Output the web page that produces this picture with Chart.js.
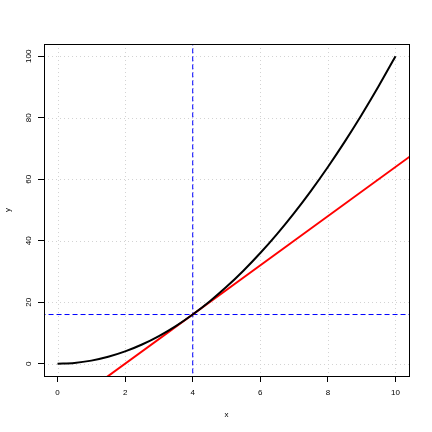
<!DOCTYPE html>
<html><head><meta charset="utf-8">
<script src="https://cdn.jsdelivr.net/npm/chart.js@4"></script>
<style>html,body{margin:0;padding:0;background:#fff}</style>
</head><body>
<canvas id="c" width="432" height="432"></canvas>
<script>
// curve y = x^2 read at each half unit
const curveX = [0,0.5,1,1.5,2,2.5,3,3.5,4,4.5,5,5.5,6,6.5,7,7.5,8,8.5,9,9.5,10];
const curveY = [0,0.25,1,2.25,4,6.25,9,12.25,16,20.25,25,30.25,36,42.25,49,56.25,64,72.25,81,90.25,100];
// tangent line (extends past the plot, clipped)
const tangentX = [-1, 11];
const tangentY = [-24, 72];
const vlineX = 4;
const hlineY = 16;
const xTicks = [0,2,4,6,8,10];
const yTicks = [0,20,40,60,80,100];
const xLabel = 'x';
const yLabel = 'y';

const FONT = 'Liberation Sans, Arial, Helvetica, sans-serif';

const rPlugin = {
  id: 'rPlugin',
  beforeDatasetsDraw(chart) {
    const {ctx, chartArea: a, scales: {x, y}} = chart;
    ctx.save();
    ctx.strokeStyle = '#d3d3d3';
    ctx.lineWidth = 1;
    ctx.setLineDash([1, 3]);
    xTicks.forEach(v => {
      const p = Math.round(x.getPixelForValue(v)) + 0.5;
      ctx.beginPath(); ctx.moveTo(p, a.top); ctx.lineTo(p, a.bottom); ctx.stroke();
    });
    yTicks.forEach(v => {
      const p = Math.round(y.getPixelForValue(v)) + 0.5;
      ctx.beginPath(); ctx.moveTo(a.left, p); ctx.lineTo(a.right, p); ctx.stroke();
    });
    ctx.restore();
  },
  afterDraw(chart) {
    const {ctx, chartArea: a, scales: {y}} = chart;
    ctx.save();
    ctx.strokeStyle = '#000';
    ctx.lineWidth = 1;
    ctx.strokeRect(Math.round(a.left) + 0.5, Math.round(a.top) + 0.5,
                   Math.round(a.right - a.left), Math.round(a.bottom - a.top));
    ctx.fillStyle = '#000';
    ctx.font = '8px ' + FONT;
    ctx.textAlign = 'center';
    ctx.textBaseline = 'middle';
    y.ticks.forEach(t => {
      const p = y.getPixelForValue(t.value);
      ctx.save();
      ctx.translate(28.5, p);
      ctx.rotate(-Math.PI / 2);
      ctx.fillText(t.label, 0, 0);
      ctx.restore();
    });
    ctx.restore();
  }
};

new Chart(document.getElementById('c'), {
  type: 'line',
  data: {
    datasets: [
      { data: curveX.map((v, i) => ({x: v, y: curveY[i]})), borderColor: '#000', borderWidth: 2,
        pointRadius: 0, cubicInterpolationMode: 'monotone', clip: 0 },
      { data: tangentX.map((v, i) => ({x: v, y: tangentY[i]})), borderColor: '#ff0000', borderWidth: 2,
        pointRadius: 0, clip: 0 },
      { data: [{x: vlineX, y: -50}, {x: vlineX, y: 150}], borderColor: '#0000ff', borderWidth: 1,
        borderDash: [5, 3], pointRadius: 0, clip: 0 },
      { data: [{x: -5, y: hlineY}, {x: 15, y: hlineY}], borderColor: '#0000ff', borderWidth: 1,
        borderDash: [5, 3], pointRadius: 0, clip: 0 }
    ]
  },
  options: {
    responsive: false,
    animation: false,
    devicePixelRatio: 1,
    layout: { padding: { left: 0, right: 23, top: 44, bottom: 0 } },
    plugins: { legend: { display: false }, tooltip: { enabled: false } },
    scales: {
      x: {
        type: 'linear', min: -0.4, max: 10.4,
        afterBuildTicks: s => { s.ticks = xTicks.map(v => ({value: v})); },
        afterFit: s => { s.height = 56; },
        ticks: { includeBounds: false, color: '#000', font: { family: FONT, size: 8 }, padding: 6, maxRotation: 0 },
        grid: { drawOnChartArea: false, drawTicks: true, tickLength: 6, tickColor: '#000', tickWidth: 1 },
        border: { display: false },
        title: { display: true, text: xLabel, color: '#000', font: { family: FONT, size: 8 }, padding: { top: 0, bottom: 12 } }
      },
      y: {
        type: 'linear', min: -4, max: 104,
        afterBuildTicks: s => { s.ticks = yTicks.map(v => ({value: v})); },
        afterFit: s => { s.width = 44; },
        ticks: { display: false, includeBounds: false, font: { family: FONT, size: 8 } },
        grid: { drawOnChartArea: false, drawTicks: true, tickLength: 6, tickColor: '#000', tickWidth: 1 },
        border: { display: false },
        title: { display: true, text: yLabel, color: '#000', font: { family: FONT, size: 8 }, padding: { top: 3, bottom: 0 } }
      }
    }
  },
  plugins: [rPlugin]
});
</script>
</body></html>
